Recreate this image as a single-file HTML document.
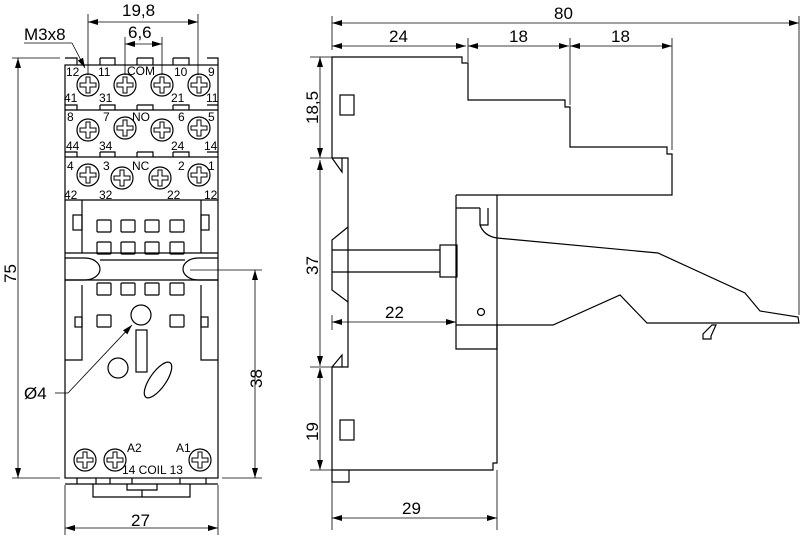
<!DOCTYPE html>
<html><head><meta charset="utf-8"><style>
html,body{margin:0;padding:0;background:#fff;}
svg{display:block;}
text{font-family:"Liberation Sans",sans-serif;fill:#000;}
</style></head><body>
<svg width="800" height="538" viewBox="0 0 800 538" xmlns="http://www.w3.org/2000/svg">
<defs>
<marker id="a" viewBox="0 0 10 6" refX="10" refY="3" markerWidth="10" markerHeight="6" orient="auto-start-reverse" markerUnits="userSpaceOnUse"><path d="M0,0 L10,3 L0,6 z" fill="#000"/></marker>
<g id="s"><circle r="11" fill="#fff" stroke="#000" stroke-width="1.2"/><path d="M-2,-8 h4 v6 h6 v4 h-6 v6 h-4 v-6 h-6 v-4 h6 z" fill="none" stroke="#000" stroke-width="1"/></g>
</defs>
<g fill="none" stroke="#000" stroke-width="1.2">
<rect x="65" y="65" width="153" height="413"/>
<path d="M65,58 h12 v7 M100,58 h15 v7 M100,58 v7 M137,58 h16 v7 M137,58 v7 M173,58 h16 v7 M173,58 v7 M207,58 h11 v7 M77,58 v7"/>
<path d="M65,110 h153 M65,157 h153 M65,200 h153"/>
<path d="M65,105 h12 v5 M100,105 h15 v5 M100,105 v5 M137,105 h16 v5 M137,105 v5 M173,105 h16 v5 M173,105 v5 M207,105 h11 M77,105 v5"/>
<path d="M65,152 h12 v5 M100,152 h15 v5 M100,152 v5 M137,152 h16 v5 M137,152 v5 M173,152 h16 v5 M173,152 v5 M207,152 h11 M77,152 v5"/>
<path d="M82,200 v53 M201,200 v53 M65,253 h153"/>
<rect x="73" y="215" width="9" height="15"/><rect x="201" y="215" width="8" height="15"/>
<rect x="97" y="220" width="14" height="12" rx="1"/><rect x="121" y="220" width="14" height="12" rx="1"/><rect x="145" y="220" width="14" height="12" rx="1"/><rect x="170" y="220" width="14" height="12" rx="1"/>
<rect x="97" y="242" width="14" height="12" rx="1"/><rect x="121" y="242" width="14" height="12" rx="1"/><rect x="145" y="242" width="14" height="12" rx="1"/><rect x="170" y="242" width="14" height="12" rx="1"/>
<path d="M65,258 h20 a15,11 0 0 1 0,22 h-20"/>
<path d="M218,258 h-20 a15,11 0 0 0 0,22 h20"/>
<path d="M100,260 h85 M65,280 h153"/>
<path d="M82,285 v75 h-17 M201,285 v75 h17"/>
<rect x="75" y="317" width="7" height="10"/><rect x="201" y="317" width="7" height="10"/>
<rect x="97" y="283" width="14" height="12" rx="1"/><rect x="121" y="283" width="14" height="12" rx="1"/><rect x="145" y="283" width="14" height="12" rx="1"/><rect x="170" y="283" width="14" height="12" rx="1"/>
<rect x="97" y="315" width="14" height="12" rx="1"/><rect x="170" y="315" width="14" height="12" rx="1"/>
<circle cx="141" cy="315" r="10"/>
<rect x="136" y="330" width="11" height="42"/>
<circle cx="118" cy="368" r="10"/>
<ellipse cx="158" cy="380" rx="21" ry="8" transform="rotate(-55 158 380)"/>
<path d="M65,484 h153 M77,478 v6 M96,478 v6 M110,478 v6 M132,478 v6 M180,478 v6 M206,478 v6"/>
<path d="M93,484 v13 h97 v-13 M127,484 v6 h30 v-6 M142,490 v7"/>
</g>
<g>
<use href="#s" x="88" y="85"/><use href="#s" x="125" y="85"/><use href="#s" x="162" y="85"/><use href="#s" x="199" y="85"/>
<use href="#s" x="88" y="130"/><use href="#s" x="125" y="128"/><use href="#s" x="162" y="130"/><use href="#s" x="199" y="128"/>
<use href="#s" x="88" y="175"/><use href="#s" x="122" y="178"/><use href="#s" x="160" y="178"/><use href="#s" x="199" y="175"/>
<use href="#s" x="85" y="460"/><use href="#s" x="115" y="460"/><use href="#s" x="200" y="460"/>
</g>
<g font-size="12">
<text x="66" y="76">12</text><text x="98" y="76">11</text><text x="127" y="75">COM</text><text x="174" y="76">10</text><text x="208" y="76">9</text>
<text x="64" y="102">41</text><text x="99" y="102">31</text><text x="171" y="102">21</text><text x="206" y="102">11</text>
<text x="67" y="121">8</text><text x="103" y="121">7</text><text x="132" y="121">NO</text><text x="178" y="121">6</text><text x="208" y="121">5</text>
<text x="66" y="150">44</text><text x="99" y="150">34</text><text x="171" y="150">24</text><text x="204" y="150">14</text>
<text x="67" y="170">4</text><text x="103" y="170">3</text><text x="132" y="170">NC</text><text x="178" y="170">2</text><text x="208" y="170">1</text>
<text x="64" y="199">42</text><text x="99" y="199">32</text><text x="167" y="199">22</text><text x="204" y="199">12</text>
<text x="127" y="452">A2</text><text x="176" y="452">A1</text><text x="122" y="474">14 COIL 13</text>
</g>
<g fill="none" stroke="#000" stroke-width="0.8">
<path d="M88,14 v61 M198,14 v61 M125,37 v38 M162,37 v38"/>
<line x1="88" y1="22" x2="198" y2="22" marker-start="url(#a)" marker-end="url(#a)"/>
<line x1="125" y1="44" x2="162" y2="44" marker-start="url(#a)" marker-end="url(#a)"/>
<path d="M24,43 h48"/><line x1="72" y1="43" x2="85" y2="68" marker-end="url(#a)"/>
<path d="M12,58 h48 M12,478 h48"/>
<line x1="18" y1="58" x2="18" y2="478" marker-start="url(#a)" marker-end="url(#a)"/>
<path d="M190,270 h72 M222,478 h40"/>
<line x1="255" y1="270" x2="255" y2="478" marker-start="url(#a)" marker-end="url(#a)"/>
<path d="M65,485 v50 M218,485 v50"/>
<line x1="65" y1="528" x2="218" y2="528" marker-start="url(#a)" marker-end="url(#a)"/>
<path d="M55,393 h13"/><line x1="68" y1="393" x2="132" y2="325" marker-end="url(#a)"/>
</g>
<g font-size="17">
<text x="122" y="16">19,8</text><text x="128" y="38">6,6</text><text x="24" y="40">M3x8</text>
<text x="24" y="399">Ø4</text><text x="131" y="526">27</text>
<text transform="translate(16,283) rotate(-90)">75</text>
<text transform="translate(262,388) rotate(-90)">38</text>
</g>
<g fill="none" stroke="#000" stroke-width="1.2">
<path d="M332,158 V57 H462 V63 H468 V100 H565 V107 H570 V147 H667 V154 H672 V195 H456"/>
<path d="M456,195 V349 H497 V195 M456,208 H480 M480,208 V225 H488 V208 M480,225 Q484,236 497,238"/>
<path d="M497,238 L658,253 L745,293 L760,311 L798,317 L799,323 L647,323 L620,295 L553,325 L456,325"/>
<path d="M497,325 V463 H493 V470 H332 V367 M332,470 v12 h17 v-12"/>
<path d="M332,158 H348 V367 H332 M332,158 L342,172 V158 M332,367 L342,355 V367"/>
<path d="M348,227 L332,240 V290 L348,302 M332,250 H440 M332,272 H440"/>
<rect x="440" y="245" width="17" height="32"/>
<rect x="340" y="95" width="14" height="20"/><rect x="340" y="420" width="14" height="20"/>
<circle cx="481" cy="312" r="3.5"/>
<path d="M703,339 h8 v-3 l5,-11 h-4 l-9,9 z"/>
</g>
<g fill="none" stroke="#000" stroke-width="0.8">
<path d="M332,16 V50 M468,38 V62 M570,38 V105 M672,38 V150 M799,16 V315"/>
<line x1="332" y1="23" x2="799" y2="23" marker-start="url(#a)" marker-end="url(#a)"/>
<line x1="332" y1="46" x2="466" y2="46" marker-start="url(#a)" marker-end="url(#a)"/>
<line x1="468" y1="46" x2="569" y2="46" marker-start="url(#a)" marker-end="url(#a)"/>
<line x1="570" y1="46" x2="672" y2="46" marker-start="url(#a)" marker-end="url(#a)"/>
<path d="M310,57 H332 M310,158 H332 M310,367 H332 M310,470 H332"/>
<line x1="320" y1="57" x2="320" y2="158" marker-start="url(#a)" marker-end="url(#a)"/>
<line x1="320" y1="160" x2="320" y2="366" marker-start="url(#a)" marker-end="url(#a)"/>
<line x1="320" y1="368" x2="320" y2="470" marker-start="url(#a)" marker-end="url(#a)"/>
<path d="M332,315 V330"/>
<line x1="332" y1="322" x2="456" y2="322" marker-start="url(#a)" marker-end="url(#a)"/>
<path d="M332,482 V530 M497,470 V530"/>
<line x1="332" y1="518" x2="497" y2="518" marker-start="url(#a)" marker-end="url(#a)"/>
</g>
<g font-size="17">
<text x="554" y="19">80</text><text x="389" y="42">24</text><text x="509" y="42">18</text><text x="611" y="42">18</text>
<text x="385" y="318">22</text><text x="402" y="514">29</text>
<text transform="translate(318,124) rotate(-90)">18,5</text>
<text transform="translate(318,275) rotate(-90)">37</text>
<text transform="translate(318,441) rotate(-90)">19</text>
</g>
</svg>
</body></html>
